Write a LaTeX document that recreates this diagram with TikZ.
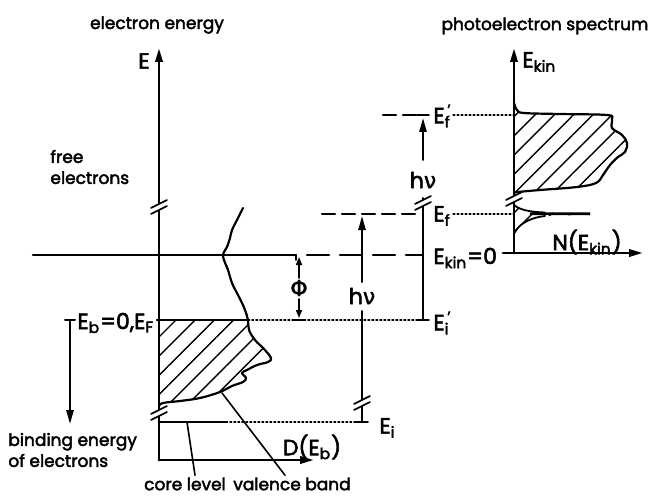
\documentclass[tikz,border=0pt]{standalone}
\usepackage{fontspec}
\setmainfont{Poppins}[RawFeature={embolden=2.5}]
\newfontfamily\grk{DejaVu Sans}[RawFeature={embolden=1.5}]
\usetikzlibrary{arrows.meta,patterns.meta}

\newcommand{\Esub}[1]{E\textsubscript{#1}}
\newcommand{\Epr}[1]{E\rlap{\textsuperscript{\,’}}\textsubscript{#1}}
% break marks on a vertical line at (#1,#2)
\newcommand{\axbreak}[2]{%
	\fill[white] (#1-8,#2+1) -- (#1+8,#2-7) -- (#1+8,#2-1) -- (#1-8,#2+7) -- cycle;
	\draw[line width=0.8pt] (#1-8,#2+1) -- (#1+8,#2-7) (#1-8,#2+7) -- (#1+8,#2-1);}

\tikzset{
	axis/.style={line width=1.4pt,-{Triangle[length=7pt,width=3.6pt]}},
	level/.style={line width=1.1pt},
	dotline/.style={line width=0.8pt,dash pattern=on 0.8pt off 1.2pt},
	hatch/.style={pattern={Lines[angle=45,distance=6.8pt,line width=0.7pt]}},
	txt/.style={font=\fontsize{8.5}{10.5}\selectfont,inner sep=1pt},
	lbl/.style={font=\fontsize{11}{12}\selectfont,inner sep=1pt},
}

\begin{document}
\begin{tikzpicture}[line cap=round,line join=round,x=0.5pt,y=-0.5pt]
	\useasboundingbox (0,0) rectangle (656,496);
	% titles
	\node[txt] (tleft) at (157,25) {electron energy};
	\node[txt] (tright) at (545,26) {photoelectron spectrum};

	%% density of states D(E_b)
	\coordinate (O) at (159,460);
	\draw[axis] (O) -- (159,48);
	\draw[axis] (O) -- (314,460);
	\node[lbl,anchor=east] (lblE) at (152,61) {E};
	\node[lbl] (lblD) at (312,447) {D(\Esub{b})};
	\node[txt,anchor=west,align=left] (free) at (48,167) {free\\electrons};

	% vacuum level
	\draw[level,line width=1.3pt] (33,255) -- (296,255);
	\draw[level,line width=1.3pt,dash pattern=on 11pt off 5.5pt] (307,255) -- (423,255);

	% valence band
	\fill[hatch] (159,320) -- plot[smooth,tension=0.6] coordinates {(248,320) (249,330) (255,340) (264,349) (271,358) (268,362) (257,365) (247,370) (242,373) (246,378) (243,382) (232,386) (220,392) (200,398) (180,401) (163,403) (159,406)} -- cycle;
	\draw[line width=1.1pt] plot[smooth,tension=0.6] coordinates {(243,208) (237,220) (232,230) (230,238) (227,247) (223,256) (228,270) (232,283) (238,295) (242,303) (245,310) (248,320) (249,330) (255,340) (264,349) (271,358) (268,362) (257,365) (247,370) (242,373) (246,378) (243,382) (232,386) (220,392) (200,398) (180,401) (163,403) (159,406)};
	\axbreak{159}{207}
	\axbreak{159}{413}

	% Fermi level
	\node[lbl,anchor=west] (lblEb) at (75,323) {\Esub{b}=0,\Esub{F}};
	\draw[line width=0.6pt] (lblEb.east) ++(0,-3) coordinate (fl) -- (248,320) coordinate (fr);
	\draw[dotline] (fr) -- (420,320);
	\draw[line width=1pt,-{Triangle[length=7pt,width=3.6pt]}] (70,320) -- (70,424);
	\draw[line width=1pt] (65,320) -- (75,320);
	\node[txt,anchor=west,align=left] (bind) at (6,450) {binding energy\\of electrons};

	% core level
	\draw[level,line width=1.4pt] (159,422) coordinate (cl) -- (226,422) coordinate (cr);
	\draw[dotline] (cr) -- (360,422);
	\node[txt] (core) at (185,484) {core level};
	\node[txt] (val) at (292,484) {valence band};
	\draw[line width=0.8pt] (187,422) -- (core.north -| 195,0);
	\draw[line width=0.8pt] (222,393) -- (val.north -| 285,0);

	% work function
	\draw[line width=0.8pt,-{Triangle[length=4pt,width=3pt]}] (299,278) -- (299,257);
	\draw[line width=0.8pt,-{Triangle[length=4pt,width=3pt]}] (299,299) -- (299,318);
	\draw[line width=0.8pt] (294,320) -- (304,320);
	\draw[line width=0.8pt] (296,255) -- (296,260);
	\node[lbl] (phi) at (299,288) {\grk Φ};

	% photon hv from core level
	\draw[level,line width=1pt] (362,311) -- (362,422);
	\draw[line width=0.8pt] (356,422) -- (368,422);
	\axbreak{362}{403}
	\draw[line width=1pt,-{Triangle[length=7pt,width=3.6pt]}] (362,282) -- (362,216);
	\node[lbl] (hv1) at (362,296) {h{\grk ν}};
	\node[lbl,anchor=west] (Ei) at (377,428) {\Esub{i}};

	% final states
	\draw[level,dash pattern=on 6.5pt off 3.5pt] (322,214) -- (421,214);
	\draw[level,dash pattern=on 6.5pt off 3.5pt] (383,115) -- (419,115);
	\draw[level,line width=1pt] (423,198) -- (423,320);
	\draw[line width=0.8pt] (417,320) -- (429,320);
	\draw[line width=0.8pt] (417,115) -- (429,115);
	\axbreak{423}{203}
	\draw[line width=1pt,-{Triangle[length=7pt,width=3.6pt]}] (423,160) -- (423,118);
	\node[lbl] (hv2) at (423,180) {h{\grk ν}};
	\node[lbl,anchor=west] (Efp) at (431,116) {\Epr{f}};
	\node[lbl,anchor=west] (Ef) at (431,216) {\Esub{f}};
	\node[lbl,anchor=west] (Eip) at (431,323) {\Epr{i}};
	\node[lbl,anchor=west] (Ek0) at (431,258) {\Esub{kin}=0};
	\draw[dotline] (Efp.east |- 0,115) -- (514,115);
	\draw[dotline] (Ef.east |- 0,214) -- (514,214);

	%% spectrum N(E_kin)
	\coordinate (S) at (514,253);
	\fill[hatch] (514,193) -- plot[smooth,tension=0.6] coordinates {(514,193) (518,192) (540,190) (577,187) (596,183) (603,175) (610,165) (618,157) (625,152) (627,143) (622,135) (612,128) (612,119) (607,115) (560,114) (524,113) (517,110) (514,103)} -- cycle;
	\draw[line width=1.1pt] plot[smooth,tension=0.6] coordinates {(514,193) (518,192) (540,190) (577,187) (596,183) (603,175) (610,165) (618,157) (625,152) (627,143) (622,135) (612,128) (612,119) (607,115) (560,114) (524,113) (517,110) (514,103)};
	\fill[hatch] (514,205) .. controls (520,210) and (530,212) .. (545,212.5) -- (590,213) -- (590,215) -- (545,216) .. controls (528,218) and (518,225) .. (514,234) -- cycle;
	\draw[line width=0.9pt] (514,205) .. controls (520,210) and (530,212) .. (545,212.5);
	\draw[line width=0.9pt] (514,234) .. controls (518,225) and (528,218) .. (545,216);
	\fill (530,212.5) -- (590,212.3) -- (590,215.2) -- (530,215) -- cycle;
	\draw[axis] (503,253) -- (643,253);
	\draw[axis] (S) -- (514,48);
	\axbreak{514}{199}
	\node[lbl,anchor=west] (lblEk) at (520,62) {\Esub{kin}};
	\node[lbl] (lblN) at (587,242) {N(\Esub{kin})};
\end{tikzpicture}
\end{document}
